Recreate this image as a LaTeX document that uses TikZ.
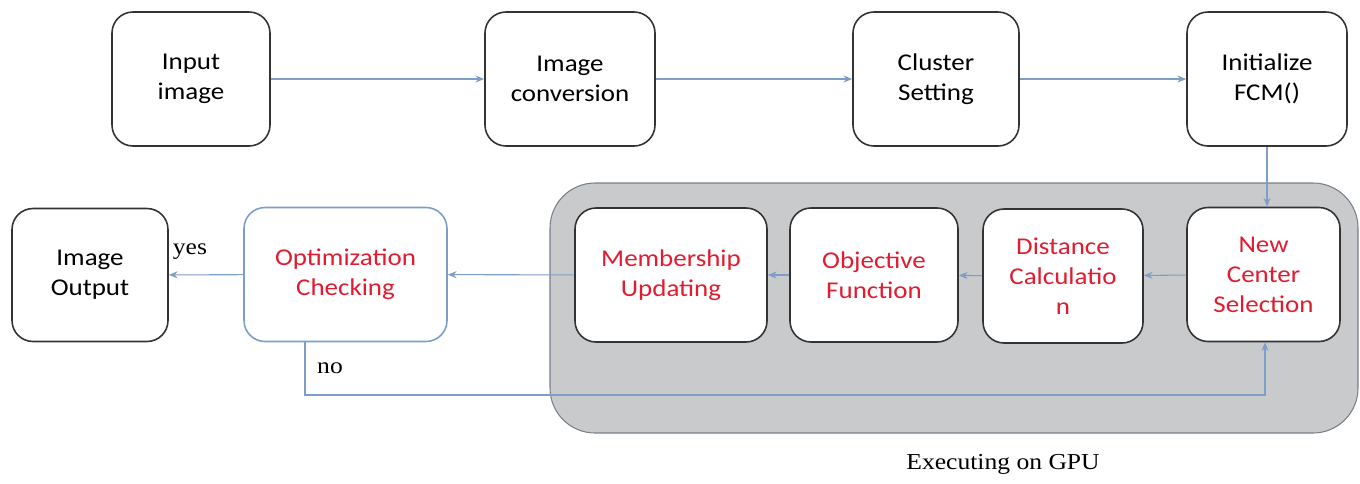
\documentclass[tikz,border=0pt]{standalone}
\usepackage{fontspec}
\setmainfont[FakeStretch=1.12]{Carlito}
\newfontfamily\labelfont[FakeStretch=1.12]{Liberation Serif}
\usepackage{tikz}
\usetikzlibrary{arrows.meta,calc,positioning}
\definecolor{flowblue}{RGB}{125,158,198}
\definecolor{stepred}{RGB}{226,28,48}
\definecolor{panelgray}{RGB}{201,202,204}
\definecolor{paneledge}{RGB}{120,128,138}
\tikzset{step box/.style={draw=black!80,line width=0.9pt,fill=white,rounded corners=0.42cm,
    minimum width=3.2cm,minimum height=2.68cm,align=center,inner sep=2pt,
    font=\fontsize{13.7}{17}\selectfont},
  gpu box/.style={step box,text=stepred},
  flow/.style={draw=flowblue,line width=0.6pt,-{Stealth[length=5pt,width=4pt]}},
  side label/.style={font=\labelfont\fontsize{13}{15}\selectfont,inner sep=1pt}}

\begin{document}
\begin{tikzpicture}
\useasboundingbox (0,0) rectangle (27.2,-9.66);

% Gray panel for the steps running on the GPU
\draw[fill=panelgray,draw=paneledge,line width=0.6pt,rounded corners=0.9cm] (11.0,-3.66) rectangle (27.16,-8.66);
\node[side label] (gpu) at (20.06,-9.28) {Executing on GPU};

% Upper row
\node[step box, minimum width=3.16cm] (in) at (3.82,-1.58) {Input\\image};
\node[step box, minimum width=3.4cm] (conv) at (11.4,-1.58) {Image\\conversion};
\node[step box, minimum width=3.32cm] (clus) at (18.72,-1.58) {Cluster\\Setting};
\node[step box] (init) at (25.34,-1.58) {Initialize\\FCM()};

% Lower row, right to left
\node[gpu box, minimum width=3.06cm] (ncs) at (25.27,-5.49) {New\\Center\\Selection};
\node[gpu box] (dist) at (21.26,-5.52) {Distance\\Calculatio\\n};
\node[gpu box, minimum width=3.36cm] (obj) at (17.48,-5.5) {Objective\\Function};
\node[gpu box, minimum width=3.84cm] (mem) at (13.42,-5.5) {Membership\\Updating};
\node[gpu box, draw=flowblue, minimum width=4.06cm] (opt) at (6.91,-5.49) {Optimization\\Checking};
\node[step box, minimum width=3.12cm, minimum height=2.66cm] (out) at (1.8,-5.5) {Image\\Output};

\node[side label] (yes) at (3.8,-5.04) {yes};
\node[side label] (no) at (6.6,-7.36) {no};
\coordinate (loop) at (25.3,-7.9);

\draw[flow] (in) -- (conv);
\draw[flow] (conv) -- (clus);
\draw[flow] (clus) -- (init);
\draw[flow] (init.south) -- (init.south |- ncs.north);
\draw[flow] (ncs) -- (dist);
\draw[flow] (dist) -- (obj);
\draw[flow] (obj) -- (mem);
\draw[flow] (mem) -- (opt);
\draw[flow] (opt) -- (out);
\draw[flow] ([xshift=-0.81cm]opt.south) |- (loop) -- (loop |- ncs.south);

\end{tikzpicture}
\end{document}
